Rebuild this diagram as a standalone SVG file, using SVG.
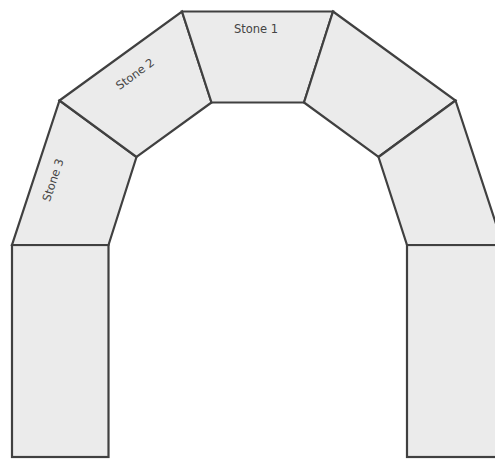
<svg xmlns="http://www.w3.org/2000/svg" width="495" height="459" viewBox="0 0 495 459">
<style>
.s{fill:#ebebeb;stroke:#404040;stroke-width:2.2;stroke-linejoin:miter}
.t{font-family:"DejaVu Sans",sans-serif;font-size:11.5px;fill:#444;text-anchor:middle}
</style>
<rect width="495" height="459" fill="#fff"/>
<g id="pillar-left"><rect class="s" x="12" y="245" width="96.5" height="212"/></g>
<g id="pillar-right"><rect class="s" x="407" y="245" width="100" height="212"/></g>
<g id="stone3"><polygon class="s" points="59.5,100.5 136.5,157 108.5,245 12,245"/>
<text class="t" transform="translate(53,180) rotate(-71.7)" y="4">Stone 3</text></g>
<g id="stone2"><polygon class="s" points="59.5,100.5 182,11.5 211.5,102.5 136.5,157"/>
<text class="t" transform="translate(135,74) rotate(-36.1)" y="4">Stone 2</text></g>
<g id="stone1"><polygon class="s" points="182,11.5 333,11.5 304,102.5 211.5,102.5"/>
<text class="t" x="256" y="33">Stone 1</text></g>
<g id="stone4"><polygon class="s" points="333,11.5 455.5,100.5 378.5,157 304,102.5"/></g>
<g id="stone5"><polygon class="s" points="455.5,100.5 503,245 407,245 378.5,157"/></g>
<g id="connectors"></g>
</svg>
